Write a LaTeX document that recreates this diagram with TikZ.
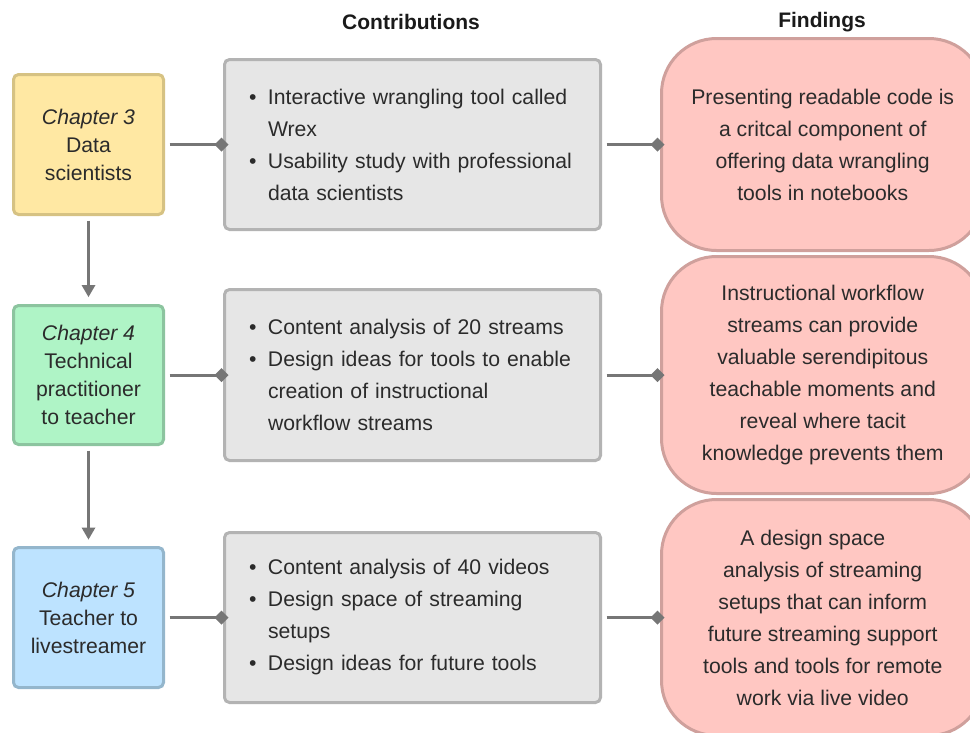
\documentclass[tikz,border=0pt]{standalone}
\usepackage{fontspec}
\setmainfont{Liberation Sans}
\usetikzlibrary{arrows.meta}

\definecolor{ink}{HTML}{2B2B2B}
\definecolor{headink}{HTML}{1A1A1A}
\definecolor{linkgray}{HTML}{767676}
\definecolor{yelfill}{HTML}{FFE8A3}
\definecolor{yelline}{HTML}{D6C283}
\definecolor{grnfill}{HTML}{AFF4C6}
\definecolor{grnline}{HTML}{8CC49F}
\definecolor{blufill}{HTML}{BDE3FF}
\definecolor{bluline}{HTML}{94B6CC}
\definecolor{gryfill}{HTML}{E6E6E6}
\definecolor{gryline}{HTML}{B3B3B3}
\definecolor{pnkfill}{HTML}{FFC7C2}
\definecolor{pnkline}{HTML}{CFA09C}

\newcommand\bodyfont{\fontsize{21.2}{32}\selectfont}
\newcommand\chapfont{\fontsize{21.2}{28}\selectfont}
\newcommand\bitem[1]{\makebox[19pt][l]{\textbullet}#1}
\newcommand\bcont[1]{\hspace*{19pt}#1}

\begin{document}
\begin{tikzpicture}[x=1pt,y=-1pt,
  chapbox/.style={draw, line width=3pt, rounded corners=5pt,
    minimum width=150pt, minimum height=140pt, inner sep=0pt,
    align=center, font=\chapfont, text=ink},
  contrib/.style={draw=gryline, fill=gryfill, line width=3pt, rounded corners=5pt,
    text width=327pt, inner xsep=24.5pt, inner ysep=0pt, minimum height=170pt,
    align=left, font=\bodyfont, text=ink},
  finding/.style={draw=pnkline, fill=pnkfill, line width=3pt, rounded corners=55pt,
    minimum width=322.5pt, inner sep=0pt, align=center, font=\bodyfont, text=ink},
  head/.style={font=\fontsize{21}{24}\selectfont\bfseries, text=headink},
  flow/.style={draw=linkgray, line width=3pt, shorten <=4.5pt,
    -{Triangle[length=12pt,width=14pt,line width=0pt]}},
  link/.style={draw=linkgray, line width=3pt, shorten <=4.5pt,
    -{Diamond[length=14pt,width=14pt,line width=0pt]}}
]
\useasboundingbox (0,0) rectangle (970,732);
\clip (0,0) rectangle (970,732);

% column headings
\node[head] (hcontrib) at (411,22) {Contributions};
\node[head] (hfind) at (822,22) {Findings};

% chapters
\node[chapbox, fill=yelfill, draw=yelline] (c3) at (88.5,144.5)
  {\textit{Chapter 3}\\Data\\scientists};
\node[chapbox, fill=grnfill, draw=grnline, minimum height=139pt] (c4) at (88.5,375)
  {\textit{Chapter 4}\\Technical\\practitioner\\to teacher};
\node[chapbox, fill=blufill, draw=bluline] (c5) at (88.5,617.5)
  {\textit{Chapter 5}\\Teacher to\\livestreamer};

% contributions
\node[contrib] (g3) at (412.5,144.5)
  {\bitem{Interactive wrangling tool called}\\
   \bcont{Wrex}\\
   \bitem{Usability study with professional}\\
   \bcont{data scientists}};
\node[contrib, minimum height=171pt] (g4) at (412.5,375)
  {\bitem{Content analysis of 20 streams}\\
   \bitem{Design ideas for tools to enable}\\
   \bcont{creation of instructional}\\
   \bcont{workflow streams}};
\node[contrib] (g5) at (412.5,617.5)
  {\bitem{Content analysis of 40 videos}\\
   \bitem{Design space of streaming}\\
   \bcont{setups}\\
   \bitem{Design ideas for future tools}};

% findings
\node[finding, minimum height=212pt] (f3) at (822.75,144.5)
  {Presenting readable code is\\a critcal component of\\offering data wrangling\\tools in notebooks};
\node[finding, minimum height=237pt] (f4) at (822.75,375)
  {Instructional workflow\\streams can provide\\valuable serendipitous\\teachable moments and\\reveal where tacit\\knowledge prevents them};
\node[finding, minimum height=236pt] (f5) at (822.75,617.5)
  {A design space\rule{20pt}{0pt}\\analysis of streaming\\setups that can inform\\future streaming support\\tools and tools for remote\\work via live video};

% chapter sequence
\draw[flow, shorten >=7pt] (c3) -- (c4);
\draw[flow, shorten >=6.5pt] (c4) -- (c5);

% chapter -> contributions -> findings
\draw[link, shorten >=-5.5pt] (c3) -- (g3);
\draw[link, shorten >=-5.5pt] (c4) -- (g4);
\draw[link, shorten >=-5.5pt] (c5) -- (g5);
\draw[link, shorten >=-4.5pt] (g3) -- (f3);
\draw[link, shorten >=-4.5pt] (g4) -- (f4);
\draw[link, shorten >=-4.5pt] (g5) -- (f5);
\end{tikzpicture}
\end{document}
